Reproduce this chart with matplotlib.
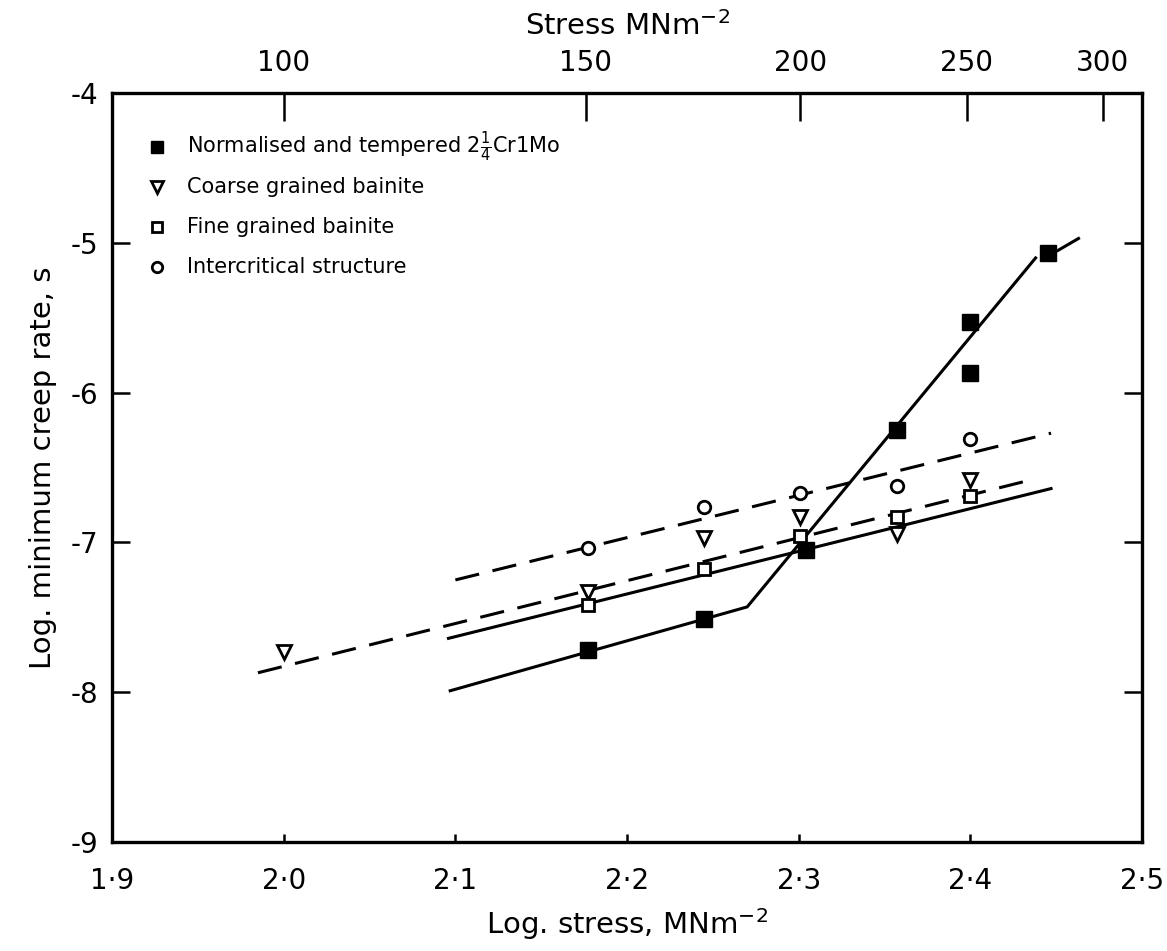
import numpy as np
import matplotlib
matplotlib.use('Agg')
import matplotlib.pyplot as plt

plt.rcParams['font.family'] = ['DejaVu Sans']
plt.rcParams['mathtext.default'] = 'regular'

# data (log stress, log min creep rate)
normal_x = [2.177, 2.245, 2.304, 2.357, 2.400, 2.400, 2.445]
normal_y = [-7.72, -7.51, -7.05, -6.25, -5.53, -5.87, -5.07]
coarse_x = [2.000, 2.177, 2.245, 2.301, 2.357, 2.400]
coarse_y = [-7.73, -7.33, -6.97, -6.83, -6.94, -6.58]
fine_x = [2.177, 2.245, 2.301, 2.357, 2.400]
fine_y = [-7.42, -7.18, -6.96, -6.83, -6.69]
inter_x = [2.177, 2.245, 2.301, 2.357, 2.400]
inter_y = [-7.04, -6.76, -6.67, -6.62, -6.31]

# fitted lines
normal_fit_x = [2.097, 2.270, 2.438]
normal_fit_y = [-7.99, -7.43, -5.10]
normal_ext_x = [2.451, 2.463]
normal_ext_y = [-5.05, -4.97]
fine_fit_x = [2.096, 2.447]
fine_fit_y = [-7.64, -6.64]
coarse_fit_x = [1.985, 2.436]
coarse_fit_y = [-7.87, -6.58]
inter_fit_x = [2.100, 2.447]
inter_fit_y = [-7.25, -6.27]

xticks = [1.9, 2.0, 2.1, 2.2, 2.3, 2.4, 2.5]
xlabels = ['1·9', '2·0', '2·1', '2·2', '2·3', '2·4', '2·5']
yticks = [-9, -8, -7, -6, -5, -4]
ylabels = ['-9', '-8', '-7', '-6', '-5', '-4']
top_ticks = [100, 150, 200, 250, 300]

labels = ['Normalised and tempered $2\\frac{1}{4}$Cr1Mo',
          'Coarse grained bainite',
          'Fine grained bainite',
          'Intercritical structure']

fig = plt.figure(figsize=(11.67, 9.51), dpi=100)
ax = fig.add_axes([0.096, 0.1146, 0.8826, 0.7874])

lw = 2.2
dash = (0, (8, 4.5))
ax.plot(normal_fit_x, normal_fit_y, 'k-', lw=lw)
ax.plot(normal_ext_x, normal_ext_y, 'k-', lw=lw)
ax.plot(fine_fit_x, fine_fit_y, 'k-', lw=lw)
ax.plot(coarse_fit_x, coarse_fit_y, color='k', lw=lw, linestyle=dash)
ax.plot(inter_fit_x, inter_fit_y, color='k', lw=lw, linestyle=dash)

ax.plot(normal_x, normal_y, 's', ms=11, mfc='k', mec='k', ls='none', zorder=5)
ax.plot(coarse_x, coarse_y, 'v', ms=10, mfc='white', mec='k', mew=2, ls='none', zorder=5)
ax.plot(fine_x, fine_y, 's', ms=9, mfc='white', mec='k', mew=2, ls='none', zorder=5)
ax.plot(inter_x, inter_y, 'o', ms=9, mfc='white', mec='k', mew=2, ls='none', zorder=5)

ax.set_xlim(1.9, 2.5)
ax.set_ylim(-9, -4)
ax.set_xticks(xticks)
ax.set_xticklabels(xlabels)
ax.set_yticks(yticks)
ax.set_yticklabels(ylabels)
for s in ax.spines.values():
    s.set_linewidth(2.4)
ax.tick_params(axis='y', direction='in', length=13, width=1.8, labelsize=20,
               right=True, pad=10)
ax.tick_params(axis='x', direction='in', length=6, width=1.8, labelsize=20,
               top=False, pad=18)

ax.set_xlabel('Log. stress, MNm$^{-2}$', fontsize=21, labelpad=8)
ax.set_ylabel('Log. minimum creep rate, s', fontsize=21, labelpad=10)

# top axis: stress on log scale
top = ax.twiny()
top.set_xlim(ax.get_xlim())
top.set_xticks(np.log10(top_ticks))
top.set_xticklabels([str(t) for t in top_ticks])
top.tick_params(direction='in', length=20, width=1.8, labelsize=20, pad=12)
top.set_xlabel('Stress MNm$^{-2}$', fontsize=21, labelpad=10)

# key, evenly spaced rows like the original
key_styles = [
    dict(marker='s', ms=8.5, mfc='k', mec='k'),
    dict(marker='v', ms=8, mfc='white', mec='k', mew=2),
    dict(marker='s', ms=7.5, mfc='white', mec='k', mew=2),
    dict(marker='o', ms=7.5, mfc='white', mec='k', mew=2),
]
for i, (st, lab) in enumerate(zip(key_styles, labels)):
    yk = 0.928 - i * 0.0535
    ax.plot([0.044], [yk], ls='none', transform=ax.transAxes, clip_on=False, **st)
    ax.text(0.073, yk, lab, transform=ax.transAxes, fontsize=15, va='center')

fig.savefig('out.png', dpi=100)
